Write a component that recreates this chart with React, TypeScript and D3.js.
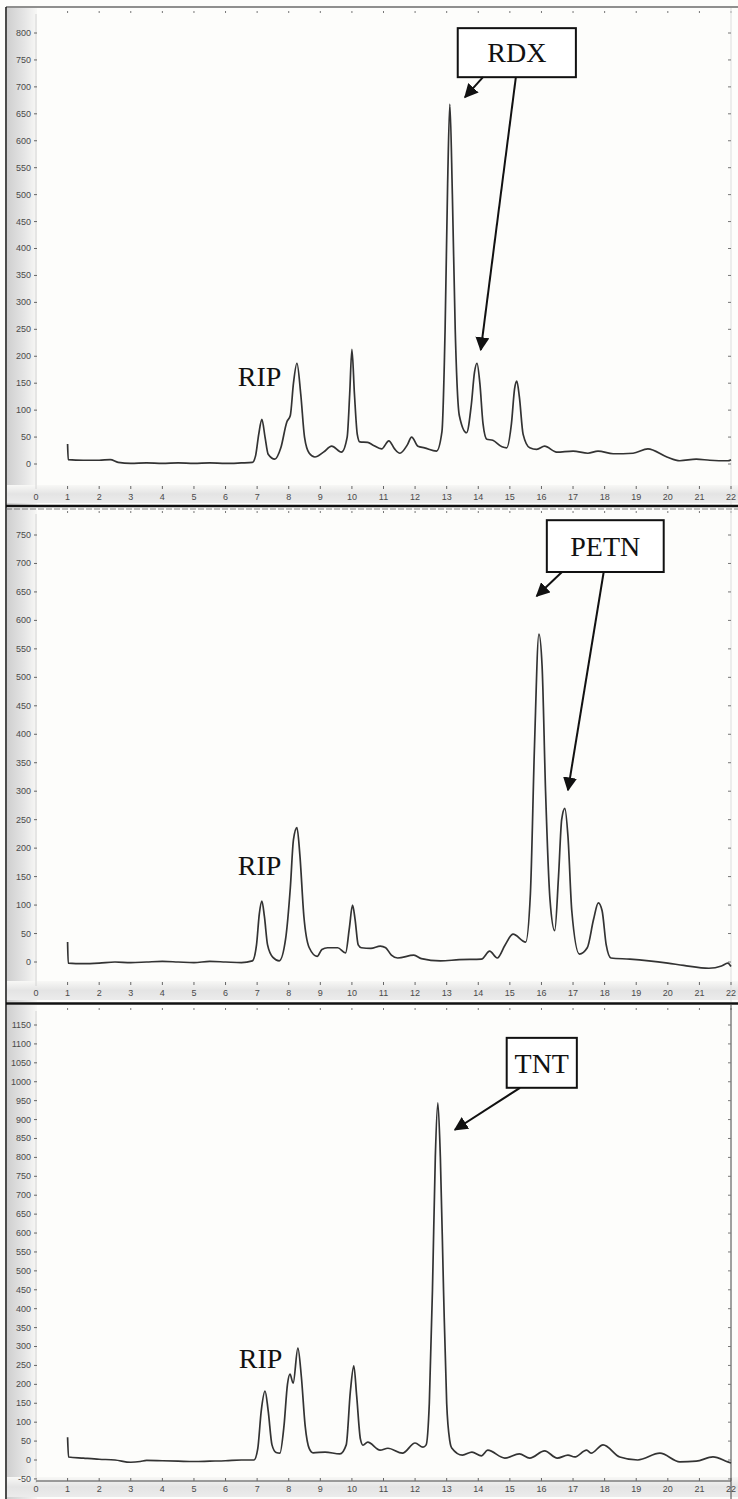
import React from "react";
import * as d3 from "d3";

// retention time (ms) vs. signal
const RDX_TRACE: [number, number][] = [
  [1.0, 37], [1.02, 8], [1.5, 7], [2.0, 7], [2.35, 8], [2.6, 3], [3.0, 1], [3.5, 2],
  [4.0, 1], [4.5, 2], [5.0, 1], [5.5, 2], [6.0, 1], [6.5, 2], [6.85, 3],
  [6.95, 15], [7.05, 55], [7.15, 83], [7.25, 50], [7.35, 18], [7.56, 9], [7.75, 30],
  [7.94, 78], [8.05, 90], [8.15, 150], [8.26, 187], [8.38, 130], [8.5, 50], [8.65, 20],
  [8.83, 13], [9.1, 22], [9.36, 33], [9.67, 22], [9.85, 50], [9.93, 130], [10.0, 213],
  [10.08, 130], [10.17, 55], [10.25, 41], [10.5, 40], [10.67, 35], [10.94, 28],
  [11.17, 43], [11.35, 28], [11.52, 20], [11.75, 35], [11.89, 50], [12.09, 33],
  [12.3, 30], [12.68, 24], [12.85, 60], [12.95, 250], [13.03, 520], [13.1, 668],
  [13.18, 500], [13.27, 250], [13.4, 90], [13.63, 58], [13.78, 110], [13.88, 170],
  [13.96, 187], [14.05, 150], [14.15, 75], [14.27, 46], [14.46, 44], [14.75, 32],
  [14.9, 30], [15.05, 75], [15.15, 140], [15.22, 154], [15.3, 125], [15.42, 55],
  [15.63, 30], [15.85, 27], [16.1, 33], [16.48, 22], [17.0, 24], [17.47, 20],
  [17.79, 24], [18.27, 19], [18.9, 20], [19.37, 28], [19.97, 13], [20.38, 6],
  [20.9, 9], [21.33, 7], [21.9, 6], [22.0, 8],
];

const PETN_TRACE: [number, number][] = [
  [1.0, 35], [1.02, -2], [1.5, -3], [2.0, -2], [2.5, 0], [3.0, -1], [3.5, 0], [4.0, 1],
  [4.5, 0], [5.0, -1], [5.5, 1], [6.0, 0], [6.5, -1], [6.85, 2], [6.98, 30], [7.07, 85],
  [7.15, 107], [7.23, 80], [7.33, 30], [7.5, 8], [7.7, 2], [7.9, 40], [8.05, 130],
  [8.15, 215], [8.26, 236], [8.35, 190], [8.48, 80], [8.65, 25], [8.9, 10], [9.05, 22],
  [9.23, 25], [9.55, 25], [9.8, 16], [9.92, 60], [10.02, 100], [10.1, 75], [10.2, 30],
  [10.3, 25], [10.6, 24], [10.9, 28], [11.07, 25], [11.25, 12], [11.45, 7], [11.96, 12],
  [12.2, 6], [12.8, 2], [13.4, 4], [14.1, 5], [14.36, 19], [14.6, 7], [14.85, 30],
  [15.1, 49], [15.5, 35], [15.65, 120], [15.78, 380], [15.92, 576], [16.02, 520],
  [16.13, 300], [16.27, 110], [16.42, 55], [16.54, 150], [16.64, 250], [16.74, 270],
  [16.84, 220], [16.96, 90], [17.2, 14], [17.45, 25], [17.65, 75], [17.8, 104],
  [17.92, 90], [18.05, 30], [18.2, 7], [18.8, 5], [19.4, 2], [20.0, -2], [20.5, -6],
  [21.3, -11], [21.7, -7], [21.9, -2], [22.0, -8],
];

const TNT_TRACE: [number, number][] = [
  [1.0, 60], [1.03, 8], [1.5, 5], [2.0, 2], [2.5, 0], [3.0, -6], [3.3, -4], [3.5, -1],
  [4.0, -2], [4.5, -3], [5.0, -4], [5.5, -3], [6.0, -2], [6.5, 0], [6.9, 0], [7.02, 30],
  [7.13, 130], [7.25, 182], [7.35, 130], [7.47, 40], [7.6, 20], [7.72, 18], [7.85, 90],
  [7.96, 200], [8.04, 227], [8.14, 203], [8.29, 296], [8.4, 220], [8.52, 90], [8.65, 30],
  [8.77, 19], [9.15, 21], [9.62, 16], [9.82, 40], [9.95, 180], [10.06, 249],
  [10.15, 170], [10.27, 55], [10.35, 39], [10.5, 47], [10.89, 26], [11.14, 31],
  [11.6, 18], [12.0, 45], [12.25, 34], [12.35, 40], [12.45, 150], [12.55, 450],
  [12.64, 800], [12.72, 944], [12.8, 800], [12.9, 450], [13.0, 150], [13.1, 50],
  [13.16, 32], [13.5, 13], [13.8, 21], [14.1, 11], [14.3, 26], [14.84, 5], [15.3, 16],
  [15.63, 5], [16.1, 24], [16.5, 5], [16.84, 13], [17.05, 8], [17.43, 26], [17.57, 18],
  [17.95, 40], [18.48, 8], [19.05, 0], [19.75, 18], [20.38, -5], [20.9, -3],
  [21.43, 8], [21.9, -5], [22.0, -8],
];

const X_TICKS = d3.range(0, 23);
const RDX_Y_TICKS = d3.range(0, 801, 50);
const PETN_Y_TICKS = d3.range(0, 751, 50);
const TNT_Y_TICKS = d3.range(-50, 1151, 50);

const W = 738;
const H = 1499;
const X0 = 36;
const X1 = 731;

type Callout = {
  label: string;
  box: [number, number, number, number]; // x0, x1, yTop, yBottom (data units)
  arrows: [number, number, number, number][]; // from x,y to x,y
};

type PanelProps = {
  trace: [number, number][];
  yTicks: number[];
  yDomain: [number, number];
  yRange: [number, number];
  top: number;
  bottom: number;
  labelY: number;
  rip: [number, number];
  callout: Callout;
  bottomAxis?: boolean;
};

const x = d3.scaleLinear().domain([0, 22]).range([X0, X1]);
const tickFont = "Liberation Sans, Arial, sans-serif";
const serif = "Liberation Serif, Times New Roman, serif";

function Panel(p: PanelProps) {
  const y = d3.scaleLinear().domain(p.yDomain).range(p.yRange);
  const line = d3
    .line<[number, number]>()
    .x((d) => x(d[0]))
    .y((d) => y(d[1]))
    .curve(d3.curveMonotoneX);
  const c = p.callout;
  return (
    <g>
      {/* grey gutters from the scan */}
      <rect x={7} y={p.top} width={30} height={p.bottom - p.top} fill={`url(#gutter)`} />
      <rect x={7} y={p.labelY - 12} width={W - 7} height={p.bottom - p.labelY + 10} fill={`url(#band)`} />
      {X_TICKS.slice(1).map((t) => (
        <line key={"tt" + t} x1={x(t)} x2={x(t)} y1={p.top + 3} y2={p.top + 5} stroke="#777" strokeWidth={1} />
      ))}
      <line x1={X1} x2={X1} y1={p.top} y2={p.bottom} stroke={p.bottomAxis ? "#444" : "#ddd"} strokeWidth={1} />
      {p.yTicks.map((t) => (
        <line key={"rt" + t} x1={X1 - 3} x2={X1} y1={y(t)} y2={y(t)} stroke="#777" />
      ))}
      <line x1={X0} x2={X0} y1={p.top + 6} y2={p.bottom - 16} stroke="#d4d4d4" strokeWidth={1} />
      {p.yTicks.map((t) => (
        <g key={"yt" + t}>
          <text x={31} y={y(t)} dy="0.33em" textAnchor="end" fontSize={9} fill="#4a4a4a" fontFamily={tickFont}>
            {t}
          </text>
          <line x1={34} x2={37} y1={y(t)} y2={y(t)} stroke="#666" />
        </g>
      ))}
      {p.bottomAxis && <line x1={X0} x2={X1} y1={p.labelY - 8} y2={p.labelY - 8} stroke="#444" strokeWidth={1.2} />}
      {X_TICKS.map((t) => (
        <g key={"xt" + t}>
          {t > 0 && <line x1={x(t)} x2={x(t)} y1={p.labelY - 11} y2={p.labelY - 8} stroke="#666" />}
          <text x={x(t)} y={p.labelY} dy="0.35em" textAnchor="middle" fontSize={9} fill="#4a4a4a" fontFamily={tickFont}>
            {t}
          </text>
        </g>
      ))}
      <path d={line(p.trace) ?? ""} fill="none" stroke="#333" strokeWidth={1.7} strokeLinejoin="round" />
      <text x={x(p.rip[0])} y={y(p.rip[1])} fontSize={28} fontFamily={serif} fill="#111">
        RIP
      </text>
      <rect
        x={x(c.box[0])}
        y={y(c.box[2])}
        width={x(c.box[1]) - x(c.box[0])}
        height={y(c.box[3]) - y(c.box[2])}
        fill="#fff"
        stroke="#111"
        strokeWidth={2}
      />
      <text
        x={(x(c.box[0]) + x(c.box[1])) / 2}
        y={(y(c.box[2]) + y(c.box[3])) / 2}
        dy="0.35em"
        textAnchor="middle"
        fontSize={28}
        fontFamily={serif}
        fill="#111"
      >
        {c.label}
      </text>
      {c.arrows.map((a, i) => (
        <line
          key={"ar" + i}
          x1={x(a[0])}
          y1={y(a[1])}
          x2={x(a[2])}
          y2={y(a[3])}
          stroke="#111"
          strokeWidth={2}
          markerEnd={`url(#head)`}
        />
      ))}
    </g>
  );
}

const RDX_CALLOUT: Callout = {
  label: "RDX",
  box: [13.35, 17.09, 809, 718],
  arrows: [
    [14.15, 718, 13.58, 681],
    [15.19, 718, 14.08, 212],
  ],
};
const PETN_CALLOUT: Callout = {
  label: "PETN",
  box: [16.17, 19.87, 776, 685],
  arrows: [
    [16.65, 685, 15.85, 643],
    [17.97, 685, 16.84, 302],
  ],
};
const TNT_CALLOUT: Callout = {
  label: "TNT",
  box: [14.9, 17.12, 1116, 984],
  arrows: [[15.32, 984, 13.26, 873]],
};

export default function App() {
  return (
    <div style={{ position: "absolute", left: 0, top: 0 }}>
      <svg width={W} height={H} style={{ display: "block", background: "#fdfdfb" }}>
        <defs>
          <linearGradient id="gutter" x1="0" x2="1" y1="0" y2="0">
            <stop offset="0" stopColor="#cfcfcf" />
            <stop offset="0.6" stopColor="#e6e6e6" />
            <stop offset="1" stopColor="#f8f8f6" />
          </linearGradient>
          <linearGradient id="band" x1="0" x2="0" y1="0" y2="1">
            <stop offset="0" stopColor="#f8f8f6" />
            <stop offset="0.5" stopColor="#e4e4e4" />
            <stop offset="1" stopColor="#ececec" />
          </linearGradient>
          <marker id="head" viewBox="0 0 10 10" refX="9" refY="5" markerWidth="7" markerHeight="7" orient="auto-start-reverse" markerUnits="strokeWidth">
            <path d="M0,0 L10,5 L0,10 z" fill="#111" />
          </marker>
        </defs>
        <Panel
          trace={RDX_TRACE}
          yTicks={RDX_Y_TICKS}
          yDomain={[0, 800]}
          yRange={[464, 33]}
          top={8}
          bottom={505}
          labelY={497}
          rip={[6.39, 145]}
          callout={RDX_CALLOUT}
        />
        <Panel
          trace={PETN_TRACE}
          yTicks={PETN_Y_TICKS}
          yDomain={[0, 750]}
          yRange={[962, 535]}
          top={508}
          bottom={1002}
          labelY={993}
          rip={[6.39, 153]}
          callout={PETN_CALLOUT}
        />
        <Panel
          trace={TNT_TRACE}
          yTicks={TNT_Y_TICKS}
          yDomain={[0, 1150]}
          yRange={[1460, 1025]}
          top={1005}
          bottom={1499}
          labelY={1489}
          rip={[6.42, 243]}
          callout={TNT_CALLOUT}
          bottomAxis
        />
        <line x1={6} x2={6} y1={7} y2={H} stroke="#111" strokeWidth={1.5} />
        <line x1={6} x2={W} y1={7} y2={7} stroke="#222" strokeWidth={1.2} />
        <line x1={6} x2={W} y1={506} y2={506} stroke="#111" strokeWidth={2.5} />
        <line x1={6} x2={W} y1={509} y2={509} stroke="#666" strokeWidth={0.8} strokeDasharray="6 2" />
        <line x1={6} x2={W} y1={1003.5} y2={1003.5} stroke="#111" strokeWidth={2.5} />
      </svg>
    </div>
  );
}
